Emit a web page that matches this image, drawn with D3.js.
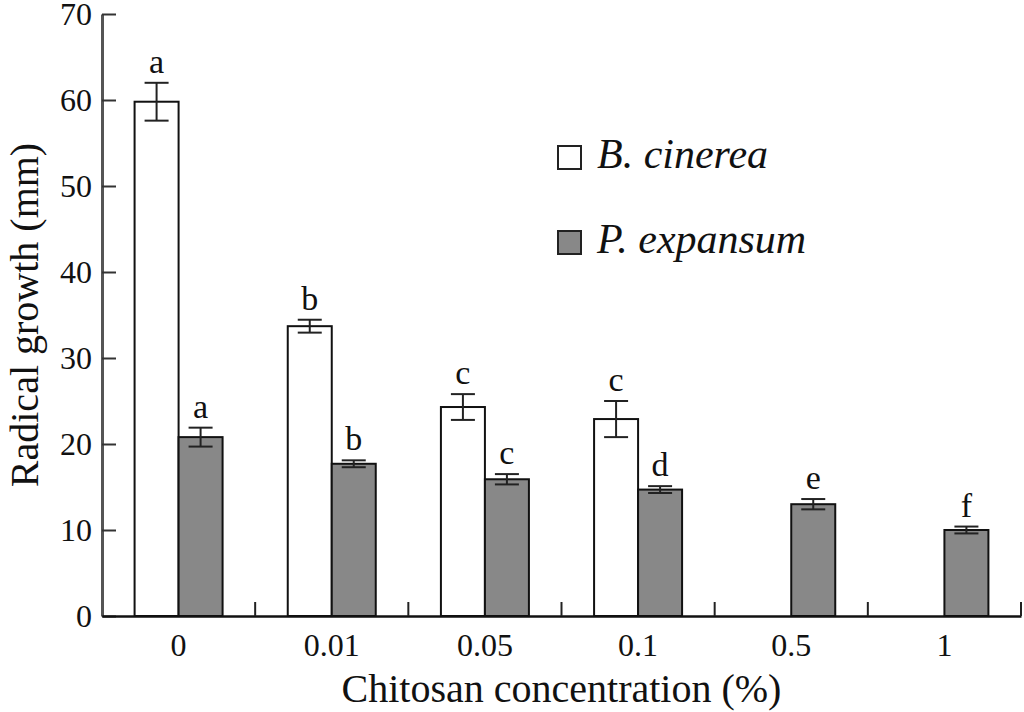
<!doctype html>
<html>
<head>
<meta charset="utf-8">
<script src="https://cdn.jsdelivr.net/npm/d3@7/dist/d3.min.js"></script>
<style>
  body { margin: 0; background: #fff; }
  svg { display: block; font-family: "Liberation Serif", "Times New Roman", serif; }
</style>
</head>
<body>
<div id="chart"></div>
<script>
// chitosan concentrations (%)
var categories = ["0", "0.01", "0.05", "0.1", "0.5", "1"];
// radial growth (mm), B. cinerea (no data at 0.5 and 1)
var cinerea = [59.8, 33.7, 24.3, 22.9, null, null];
var cinereaErr = [2.2, 0.75, 1.5, 2.1, null, null];
var cinereaLetters = ["a", "b", "c", "c", null, null];
// radial growth (mm), P. expansum
var expansum = [20.8, 17.7, 15.9, 14.7, 13.0, 10.0];
var expansumErr = [1.1, 0.4, 0.6, 0.4, 0.6, 0.4];
var expansumLetters = ["a", "b", "c", "d", "e", "f"];
var yTicks = [0, 10, 20, 30, 40, 50, 60, 70];

var W = 1024, H = 712;
var mLeft = 102, mRight = 1021, mTop = 14, mBottom = 616;
var barW = 44;

var svg = d3.select("#chart").append("svg")
  .attr("width", W)
  .attr("height", H);

var x = d3.scaleBand().domain(categories).range([mLeft, mRight]).padding(0);
var y = d3.scaleLinear().domain([0, 70]).range([mBottom, mTop]);

// series: offset relative to band centre
var series = [
  { name: "B. cinerea", values: cinerea, err: cinereaErr, letters: cinereaLetters, fill: "#ffffff", off: -barW },
  { name: "P. expansum", values: expansum, err: expansumErr, letters: expansumLetters, fill: "#888888", off: 0 }
];

function cx(i) { return x(categories[i]) + x.bandwidth() / 2; }

series.forEach(function(s) {
  var rows = s.values.map(function(v, i) {
    return { i: i, v: v, e: s.err[i], l: s.letters[i] };
  }).filter(function(d) { return d.v != null; });

  var g = svg.append("g");
  g.selectAll("rect")
    .data(rows)
    .enter()
    .append("rect")
    .attr("x", function(d) { return cx(d.i) + s.off; })
    .attr("y", function(d) { return y(d.v); })
    .attr("width", barW)
    .attr("height", function(d) { return y(0) - y(d.v); })
    .attr("fill", s.fill)
    .attr("stroke", "#111")
    .attr("stroke-width", 2);

  // error bars
  var eb = g.selectAll("g.err")
    .data(rows)
    .enter()
    .append("g")
    .attr("class", "err")
    .attr("stroke", "#222")
    .attr("stroke-width", 2);
  eb.append("line")
    .attr("x1", function(d) { return cx(d.i) + s.off + barW / 2; })
    .attr("x2", function(d) { return cx(d.i) + s.off + barW / 2; })
    .attr("y1", function(d) { return y(d.v + d.e); })
    .attr("y2", function(d) { return y(d.v - d.e); });
  [1, -1].forEach(function(sign) {
    eb.append("line")
      .attr("x1", function(d) { return cx(d.i) + s.off + barW / 2 - 12; })
      .attr("x2", function(d) { return cx(d.i) + s.off + barW / 2 + 12; })
      .attr("y1", function(d) { return y(d.v + sign * d.e); })
      .attr("y2", function(d) { return y(d.v + sign * d.e); });
  });

  // significance letters
  g.selectAll("text")
    .data(rows)
    .enter()
    .append("text")
    .attr("x", function(d) { return cx(d.i) + s.off + barW / 2; })
    .attr("y", function(d) { return y(d.v + d.e) - 10; })
    .attr("text-anchor", "middle")
    .attr("font-size", 34)
    .attr("fill", "#111")
    .text(function(d) { return d.l; });
});

// y axis
var yAxis = svg.append("g")
  .attr("transform", "translate(" + mLeft + ",0)")
  .call(d3.axisLeft(y).tickValues(yTicks).tickSize(-14).tickPadding(10).tickSizeOuter(0));
yAxis.select(".domain").attr("stroke", "#555").attr("stroke-width", 3);
yAxis.selectAll(".tick line").attr("stroke", "#333").attr("stroke-width", 2);
yAxis.selectAll(".tick text").attr("font-size", 32).attr("fill", "#111")
  .attr("font-family", "Liberation Serif, Times New Roman, serif");

// x axis: labels at band centres, ticks at band boundaries
var xAxis = svg.append("g")
  .attr("transform", "translate(0," + mBottom + ")")
  .call(d3.axisBottom(x).tickSize(0).tickPadding(17).tickSizeOuter(0));
xAxis.select(".domain").attr("stroke", "#111").attr("stroke-width", 2.5);
xAxis.selectAll(".tick text").attr("font-size", 32).attr("fill", "#111")
  .attr("font-family", "Liberation Serif, Times New Roman, serif");
xAxis.selectAll("line.bound")
  .data(categories)
  .enter()
  .append("line")
  .attr("class", "bound")
  .attr("x1", function(d) { return x(d) + x.bandwidth(); })
  .attr("x2", function(d) { return x(d) + x.bandwidth(); })
  .attr("y1", 0)
  .attr("y2", -14)
  .attr("stroke", "#222")
  .attr("stroke-width", 2);

// axis titles
svg.append("text")
  .attr("x", (mLeft + mRight) / 2)
  .attr("y", 702)
  .attr("text-anchor", "middle")
  .attr("font-size", 40)
  .attr("fill", "#111")
  .text("Chitosan concentration (%)");

svg.append("text")
  .attr("transform", "translate(38,315) rotate(-90)")
  .attr("text-anchor", "middle")
  .attr("font-size", 40)
  .attr("fill", "#111")
  .text("Radical growth (mm)");

// legend
var legend = svg.append("g");
series.forEach(function(s, i) {
  var ly = 146 + i * 85;
  legend.append("rect")
    .attr("x", 558)
    .attr("y", ly)
    .attr("width", 23)
    .attr("height", 23)
    .attr("fill", s.fill)
    .attr("stroke", "#222")
    .attr("stroke-width", 2);
  legend.append("text")
    .attr("x", 597)
    .attr("y", ly + 22)
    .attr("font-size", 42)
    .attr("font-style", "italic")
    .attr("fill", "#111")
    .text(s.name);
});
</script>
</body>
</html>
